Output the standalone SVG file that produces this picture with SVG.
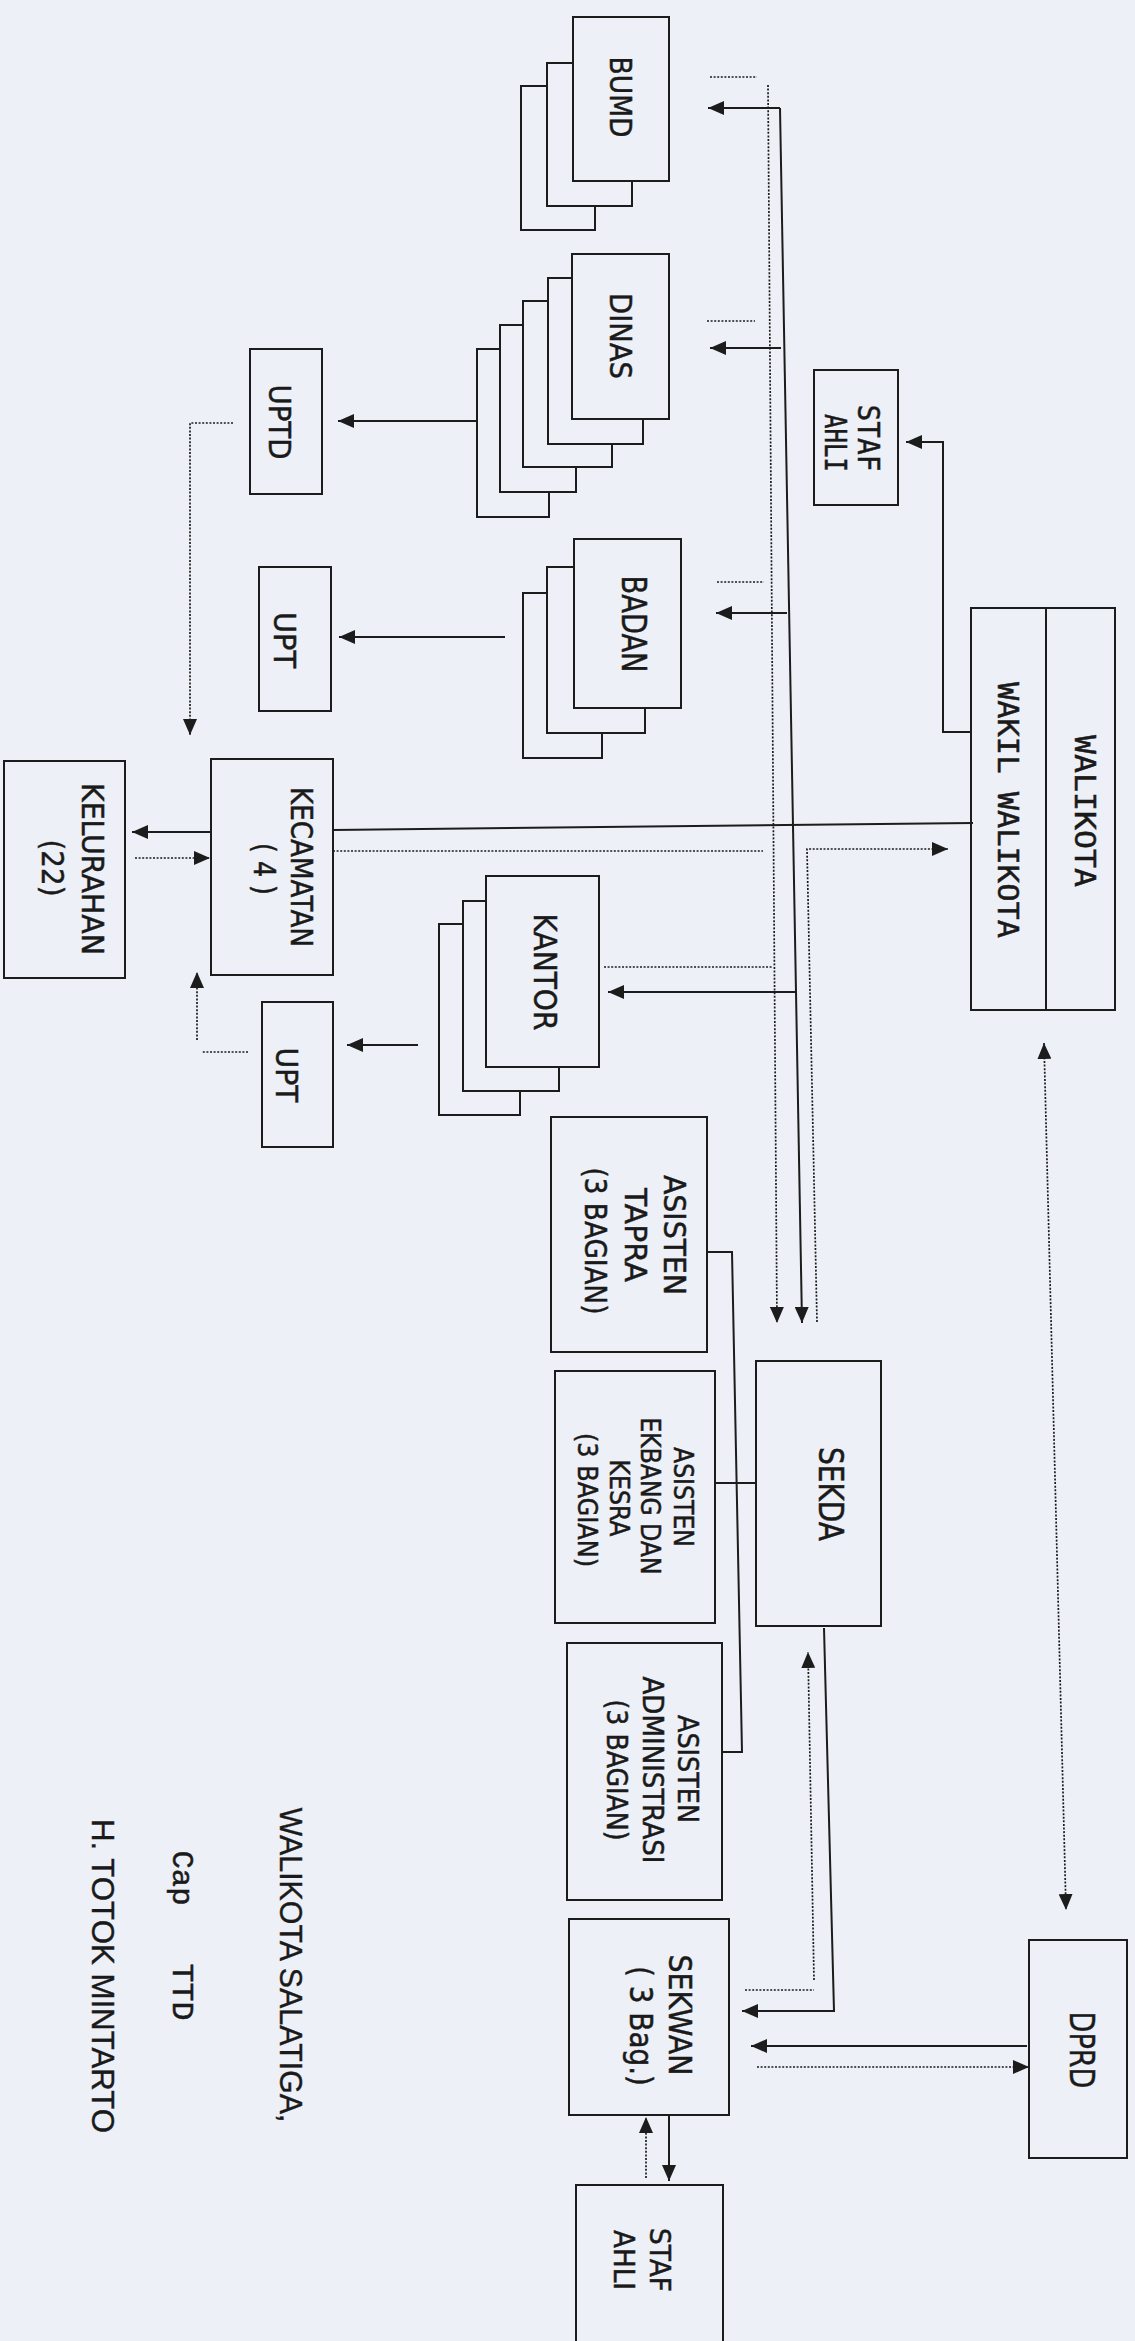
<svg xmlns="http://www.w3.org/2000/svg" width="1135" height="2341" viewBox="0 0 1135 2341">
<style>
.bx{fill:none;stroke:#1c1c1c;stroke-width:2}
.ln{fill:none;stroke:#1c1c1c;stroke-width:2}
.dt{fill:none;stroke:#1c1c1c;stroke-width:1.7;stroke-dasharray:2 1.6}
.t{font-family:'DejaVu Sans',Verdana,sans-serif;fill:#1a1a1a;stroke:#1a1a1a;stroke-width:0.5;text-anchor:middle}
.m{font-family:'DejaVu Sans Mono','Liberation Mono',monospace;fill:#1a1a1a;stroke:#1a1a1a;stroke-width:0.5;text-anchor:middle}
.n{font-family:'Liberation Sans',Arial,sans-serif;fill:#1a1a1a;stroke:#1a1a1a;stroke-width:0.4;text-anchor:middle}
.c{font-family:'Liberation Mono','Courier New',monospace;fill:#1a1a1a;stroke:#1a1a1a;stroke-width:0.5;text-anchor:middle}
</style>
<defs>
<marker id="ah" markerUnits="userSpaceOnUse" markerWidth="16" markerHeight="14" refX="16" refY="7" orient="auto">
<path d="M0,0 L16,7 L0,14 z" fill="#1c1c1c"/>
</marker>
<marker id="as" markerUnits="userSpaceOnUse" markerWidth="16" markerHeight="14" refX="0" refY="7" orient="auto">
<path d="M16,0 L0,7 L16,14 z" fill="#1c1c1c"/>
</marker>
</defs>
<rect x="0" y="0" width="1135" height="2341" fill="#edf0f7"/>

<g id="connectors">
<path class="ln" d="M780,108 L802,1323" marker-end="url(#ah)"/>
<path class="ln" d="M780,108 H708" marker-end="url(#ah)"/>
<path class="ln" d="M781,348 H710" marker-end="url(#ah)"/>
<path class="ln" d="M787,613 H716" marker-end="url(#ah)"/>
<path class="ln" d="M795,992 H608" marker-end="url(#ah)"/>
<path class="ln" d="M333,830 L973,823"/>
<path class="ln" d="M477,421 H338" marker-end="url(#ah)"/>
<path class="ln" d="M505,637 H339" marker-end="url(#ah)"/>
<path class="ln" d="M418,1045 H347" marker-end="url(#ah)"/>
<path class="ln" d="M211,832 H132" marker-end="url(#ah)"/>
<path class="ln" d="M971,732 H943 V442 H906" marker-end="url(#ah)"/>
<path class="ln" d="M707,1252 H732 L742,1752 H722"/>
<path class="ln" d="M715,1483 H756"/>
<path class="ln" d="M824,1628 L834,2011 H742" marker-end="url(#ah)"/>
<path class="ln" d="M1027,2046 H751" marker-end="url(#ah)"/>
<path class="ln" d="M669,2115 V2181" marker-end="url(#ah)"/>

<path class="dt" d="M768,85 L777,1323" marker-end="url(#ah)"/>
<path class="dt" d="M710,77 H757"/>
<path class="dt" d="M707,321 H755"/>
<path class="dt" d="M717,582 H764"/>
<path class="dt" d="M333,851 H763"/>
<path class="dt" d="M604,967 H773"/>
<path class="dt" d="M817,1322 L807,849 H948" marker-end="url(#ah)"/>
<path class="dt" d="M233,423 H190 V735" marker-end="url(#ah)"/>
<path class="dt" d="M135,858 H210" marker-end="url(#ah)"/>
<path class="dt" d="M248,1052 H202"/>
<path class="dt" d="M197,1040 V972" marker-end="url(#ah)"/>
<path class="dt" d="M1044,1043 L1066,1910" marker-start="url(#as)" marker-end="url(#ah)"/>
<path class="dt" d="M814,1980 L808,1652" marker-end="url(#ah)"/>
<path class="dt" d="M745,1990 H814"/>
<path class="dt" d="M757,2067 H1029" marker-end="url(#ah)"/>
<path class="dt" d="M646,2178 V2117" marker-end="url(#ah)"/>
</g>

<g id="bumd">
<path class="bx" d="M572,63 H547 V206 H632 V181"/>
<path class="bx" d="M547,86 H521 V230 H595 V206"/>
<rect class="bx" x="573" y="17" width="96" height="164"/>
<text class="t" transform="translate(621,97) rotate(90)" y="11" font-size="31" textLength="81" lengthAdjust="spacingAndGlyphs">BUMD</text>
</g>

<g id="dinas">
<path class="bx" d="M572,278 H548 V444 H643 V419"/>
<path class="bx" d="M548,301 H523 V467 H612 V444"/>
<path class="bx" d="M523,325 H500 V492 H576 V467"/>
<path class="bx" d="M500,349 H477 V517 H549 V492"/>
<rect class="bx" x="572" y="254" width="97" height="165"/>
<text class="t" transform="translate(621,336) rotate(90)" y="11" font-size="31" textLength="86" lengthAdjust="spacingAndGlyphs">DINAS</text>
</g>

<g id="badan">
<path class="bx" d="M574,567 H547 V733 H645 V708"/>
<path class="bx" d="M547,593 H523 V758 H602 V733"/>
<rect class="bx" x="574" y="539" width="107" height="169"/>
<text class="t" transform="translate(634,624) rotate(90)" y="12" font-size="33" textLength="97" lengthAdjust="spacingAndGlyphs">BADAN</text>
</g>

<g id="kantor">
<path class="bx" d="M486,901 H463 V1091 H559 V1067"/>
<path class="bx" d="M463,924 H439 V1115 H520 V1091"/>
<rect class="bx" x="486" y="876" width="113" height="191"/>
<text class="t" transform="translate(545,972) rotate(90)" y="11" font-size="32" textLength="117" lengthAdjust="spacingAndGlyphs">KANTOR</text>
</g>

<g id="uptd">
<rect class="bx" x="250" y="349" width="72" height="145"/>
<text class="t" transform="translate(280,422) rotate(90)" y="11" font-size="31" textLength="75" lengthAdjust="spacingAndGlyphs">UPTD</text>
</g>

<g id="upt-badan">
<rect class="bx" x="259" y="567" width="72" height="144"/>
<text class="t" transform="translate(285,640) rotate(90)" y="11" font-size="31" textLength="56" lengthAdjust="spacingAndGlyphs">UPT</text>
</g>

<g id="upt-kantor">
<rect class="bx" x="262" y="1002" width="71" height="145"/>
<text class="t" transform="translate(287,1075) rotate(90)" y="11" font-size="31" textLength="55" lengthAdjust="spacingAndGlyphs">UPT</text>
</g>

<g id="kecamatan">
<rect class="bx" x="211" y="759" width="122" height="216"/>
<text class="t" transform="translate(302,867) rotate(90)" y="11" font-size="31" textLength="160" lengthAdjust="spacingAndGlyphs">KECAMATAN</text>
<text class="t" transform="translate(265,869) rotate(90)" y="11" font-size="31" textLength="52" lengthAdjust="spacingAndGlyphs">( 4 )</text>
</g>

<g id="kelurahan">
<rect class="bx" x="4" y="761" width="121" height="217"/>
<text class="t" transform="translate(93,869) rotate(90)" y="11" font-size="31" textLength="172" lengthAdjust="spacingAndGlyphs">KELURAHAN</text>
<text class="t" transform="translate(53,868) rotate(90)" y="11" font-size="31" textLength="57" lengthAdjust="spacingAndGlyphs">(22)</text>
</g>

<g id="staf-ahli-walikota">
<rect class="bx" x="814" y="370" width="84" height="135"/>
<text class="m" transform="translate(869,438) rotate(90)" y="11" font-size="30" textLength="67" lengthAdjust="spacingAndGlyphs">STAF</text>
<text class="m" transform="translate(836,443) rotate(90)" y="11" font-size="30" textLength="58" lengthAdjust="spacingAndGlyphs">AHLI</text>
</g>

<g id="walikota">
<rect class="bx" x="971" y="608" width="144" height="402"/>
<line class="ln" x1="1046" y1="608" x2="1046" y2="1010"/>
<text class="m" transform="translate(1085,811) rotate(90)" y="10" font-size="28" textLength="152" lengthAdjust="spacingAndGlyphs">WALIKOTA</text>
<text class="m" transform="translate(1008,810) rotate(90)" y="10" font-size="28" textLength="256" lengthAdjust="spacingAndGlyphs">WAKIL WALIKOTA</text>
</g>

<g id="asisten-tapra">
<rect class="bx" x="551" y="1117" width="156" height="235"/>
<text class="t" transform="translate(675,1235) rotate(90)" y="11" font-size="30" textLength="120" lengthAdjust="spacingAndGlyphs">ASISTEN</text>
<text class="t" transform="translate(636,1235) rotate(90)" y="11" font-size="30" textLength="94" lengthAdjust="spacingAndGlyphs">TAPRA</text>
<text class="t" transform="translate(596,1241) rotate(90)" y="11" font-size="30" textLength="147" lengthAdjust="spacingAndGlyphs">(3 BAGIAN)</text>
</g>

<g id="asisten-ekbang">
<rect class="bx" x="555" y="1371" width="160" height="252"/>
<text class="t" transform="translate(684,1497) rotate(90)" y="10" font-size="27" textLength="100" lengthAdjust="spacingAndGlyphs">ASISTEN</text>
<text class="t" transform="translate(651,1496) rotate(90)" y="10" font-size="27" textLength="157" lengthAdjust="spacingAndGlyphs">EKBANG DAN</text>
<text class="t" transform="translate(620,1498) rotate(90)" y="10" font-size="27" textLength="77" lengthAdjust="spacingAndGlyphs">KESRA</text>
<text class="t" transform="translate(588,1500) rotate(90)" y="10" font-size="27" textLength="134" lengthAdjust="spacingAndGlyphs">(3 BAGIAN)</text>
</g>

<g id="asisten-administrasi">
<rect class="bx" x="567" y="1643" width="155" height="257"/>
<text class="t" transform="translate(688,1769) rotate(90)" y="10" font-size="28" textLength="108" lengthAdjust="spacingAndGlyphs">ASISTEN</text>
<text class="t" transform="translate(653,1770) rotate(90)" y="10" font-size="28" textLength="187" lengthAdjust="spacingAndGlyphs">ADMINISTRASI</text>
<text class="t" transform="translate(617,1770) rotate(90)" y="10" font-size="28" textLength="141" lengthAdjust="spacingAndGlyphs">(3 BAGIAN)</text>
</g>

<g id="sekda">
<rect class="bx" x="756" y="1361" width="125" height="265"/>
<text class="t" transform="translate(831,1494) rotate(90)" y="12" font-size="33" textLength="94" lengthAdjust="spacingAndGlyphs">SEKDA</text>
</g>

<g id="sekwan">
<rect class="bx" x="569" y="1919" width="160" height="196"/>
<text class="t" transform="translate(680,2015) rotate(90)" y="11" font-size="32" textLength="121" lengthAdjust="spacingAndGlyphs">SEKWAN</text>
<text class="t" transform="translate(641,2026) rotate(90)" y="11" font-size="32" textLength="120" lengthAdjust="spacingAndGlyphs">( 3 Bag.)</text>
</g>

<g id="dprd">
<rect class="bx" x="1029" y="1940" width="98" height="218"/>
<text class="t" transform="translate(1082,2050) rotate(90)" y="12" font-size="33" textLength="77" lengthAdjust="spacingAndGlyphs">DPRD</text>
</g>

<g id="staf-ahli-sekwan">
<path class="bx" d="M576,2345 V2185 H723 V2345"/>
<text class="t" transform="translate(660,2260) rotate(90)" y="10" font-size="29" textLength="64" lengthAdjust="spacingAndGlyphs">STAF</text>
<text class="t" transform="translate(624,2260) rotate(90)" y="10" font-size="29" textLength="60" lengthAdjust="spacingAndGlyphs">AHLI</text>
</g>

<g id="signature">
<text class="n" transform="translate(291,1965) rotate(90)" y="11" font-size="31" textLength="315" lengthAdjust="spacingAndGlyphs">WALIKOTA SALATIGA,</text>
<text class="c" transform="translate(182,1878) rotate(90)" y="9" font-size="30" textLength="55" lengthAdjust="spacingAndGlyphs">Cap</text>
<text class="c" transform="translate(182,1992) rotate(90)" y="9" font-size="30" textLength="57" lengthAdjust="spacingAndGlyphs">TTD</text>
<text class="n" transform="translate(103,1976) rotate(90)" y="11" font-size="32" textLength="314" lengthAdjust="spacingAndGlyphs">H. TOTOK MINTARTO</text>
</g>
</svg>
